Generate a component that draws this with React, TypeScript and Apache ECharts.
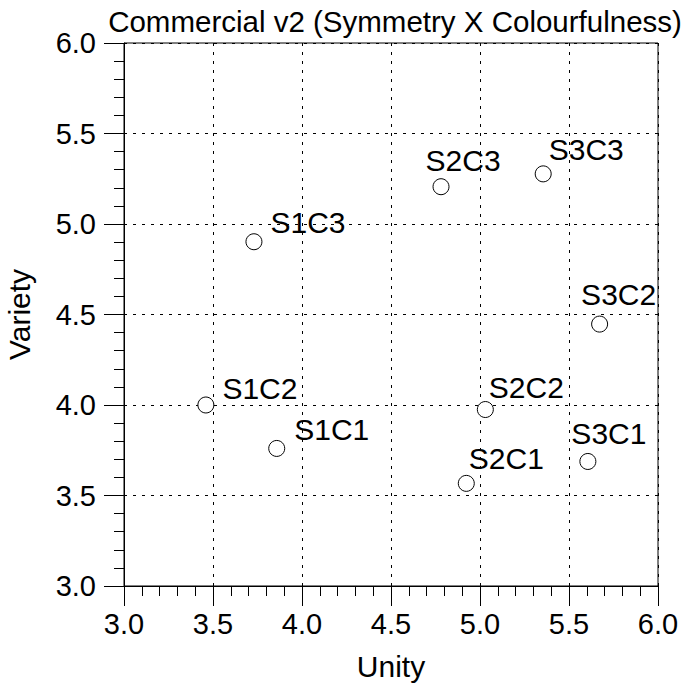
import React, { useEffect, useRef } from "react";
import * as echarts from "echarts";

const pointNames = ["S1C1", "S1C2", "S1C3", "S2C1", "S2C2", "S2C3", "S3C1", "S3C2", "S3C3"];
const unityValues = [3.858, 3.46, 3.73, 4.923, 5.03, 4.781, 5.606, 5.672, 5.355];
const varietyValues = [3.76, 4.0, 4.902, 3.567, 3.975, 5.206, 3.688, 4.447, 5.277];
// label placement offsets (dx, dy) from the marker centre
const labelOffsets = [
  [18, -18], [17, -16.5], [17, -19], [3, -24.5], [4, -22], [-15, -26], [-16, -27], [-18, -29], [6, -24],
];

const FONT = "'Liberation Sans', Arial, Helvetica, sans-serif";
const R = 8;

export default function App() {
  const ref = useRef<HTMLDivElement>(null);
  useEffect(() => {
    if (!ref.current) return;
    const chart = echarts.init(ref.current, undefined, { renderer: "svg" });
    const data = pointNames.map((n, i) => ({
      name: n,
      value: [unityValues[i], varietyValues[i]],
      label: { position: [R + labelOffsets[i][0], R + labelOffsets[i][1]] },
    }));
    const axisCommon = {
      min: 3,
      max: 6,
      interval: 0.5,
      nameLocation: "middle" as const,
      nameTextStyle: { fontFamily: FONT, fontSize: 30, color: "#000" },
      axisLine: { show: true, lineStyle: { color: "#000", width: 1 } },
      axisTick: { show: true, inside: false, length: 20, lineStyle: { color: "#000", width: 1 } },
      minorTick: { show: true, splitNumber: 5, length: 10, lineStyle: { color: "#000", width: 1 } },
      splitLine: { show: true, lineStyle: { color: "#000", width: 1, type: [3, 6] as any } },
      axisLabel: {
        fontFamily: FONT,
        fontSize: 29,
        color: "#000",
        formatter: (v: number) => v.toFixed(1),
        showMinLabel: true,
        showMaxLabel: true,
      },
    };
    chart.setOption({
      animation: false,
      backgroundColor: "#fff",
      title: {
        text: "Commercial v2 (Symmetry X Colourfulness)",
        left: 390,
        textAlign: "center",
        top: 1,
        textStyle: { fontFamily: FONT, fontSize: 29.5, fontWeight: "normal", color: "#000" },
      },
      grid: {
        left: 124,
        right: 27,
        top: 43,
        bottom: 98,
        show: true,
        containLabel: false,
        outerBoundsMode: "none",
        borderColor: "#000",
        borderWidth: 1,
        backgroundColor: "transparent",
      },
      xAxis: {
        ...axisCommon,
        type: "value",
        name: "Unity",
        nameGap: 65,
        axisLabel: { ...axisCommon.axisLabel, margin: 23 },
      },
      yAxis: {
        ...axisCommon,
        type: "value",
        name: "Variety",
        nameGap: 90,
        nameRotate: 90,
        axisLabel: { ...axisCommon.axisLabel, margin: 28 },
      },
      series: [
        {
          type: "scatter",
          data,
          symbol: "circle",
          symbolSize: 2 * R,
          itemStyle: { color: "#fff", borderColor: "#000", borderWidth: 1, opacity: 1 },
          label: {
            show: true,
            formatter: "{b}",
            fontFamily: FONT,
            fontSize: 30,
            color: "#000",
            opacity: 1,
            textBorderWidth: 0,
            align: "left",
            verticalAlign: "middle",
          },
          emphasis: { disabled: true },
          z: 5,
        },
      ],
    });
    return () => chart.dispose();
  }, []);
  return (
    <div
      ref={ref}
      style={{ position: "fixed", left: 0, top: 0, width: 685, height: 684 }}
    />
  );
}
